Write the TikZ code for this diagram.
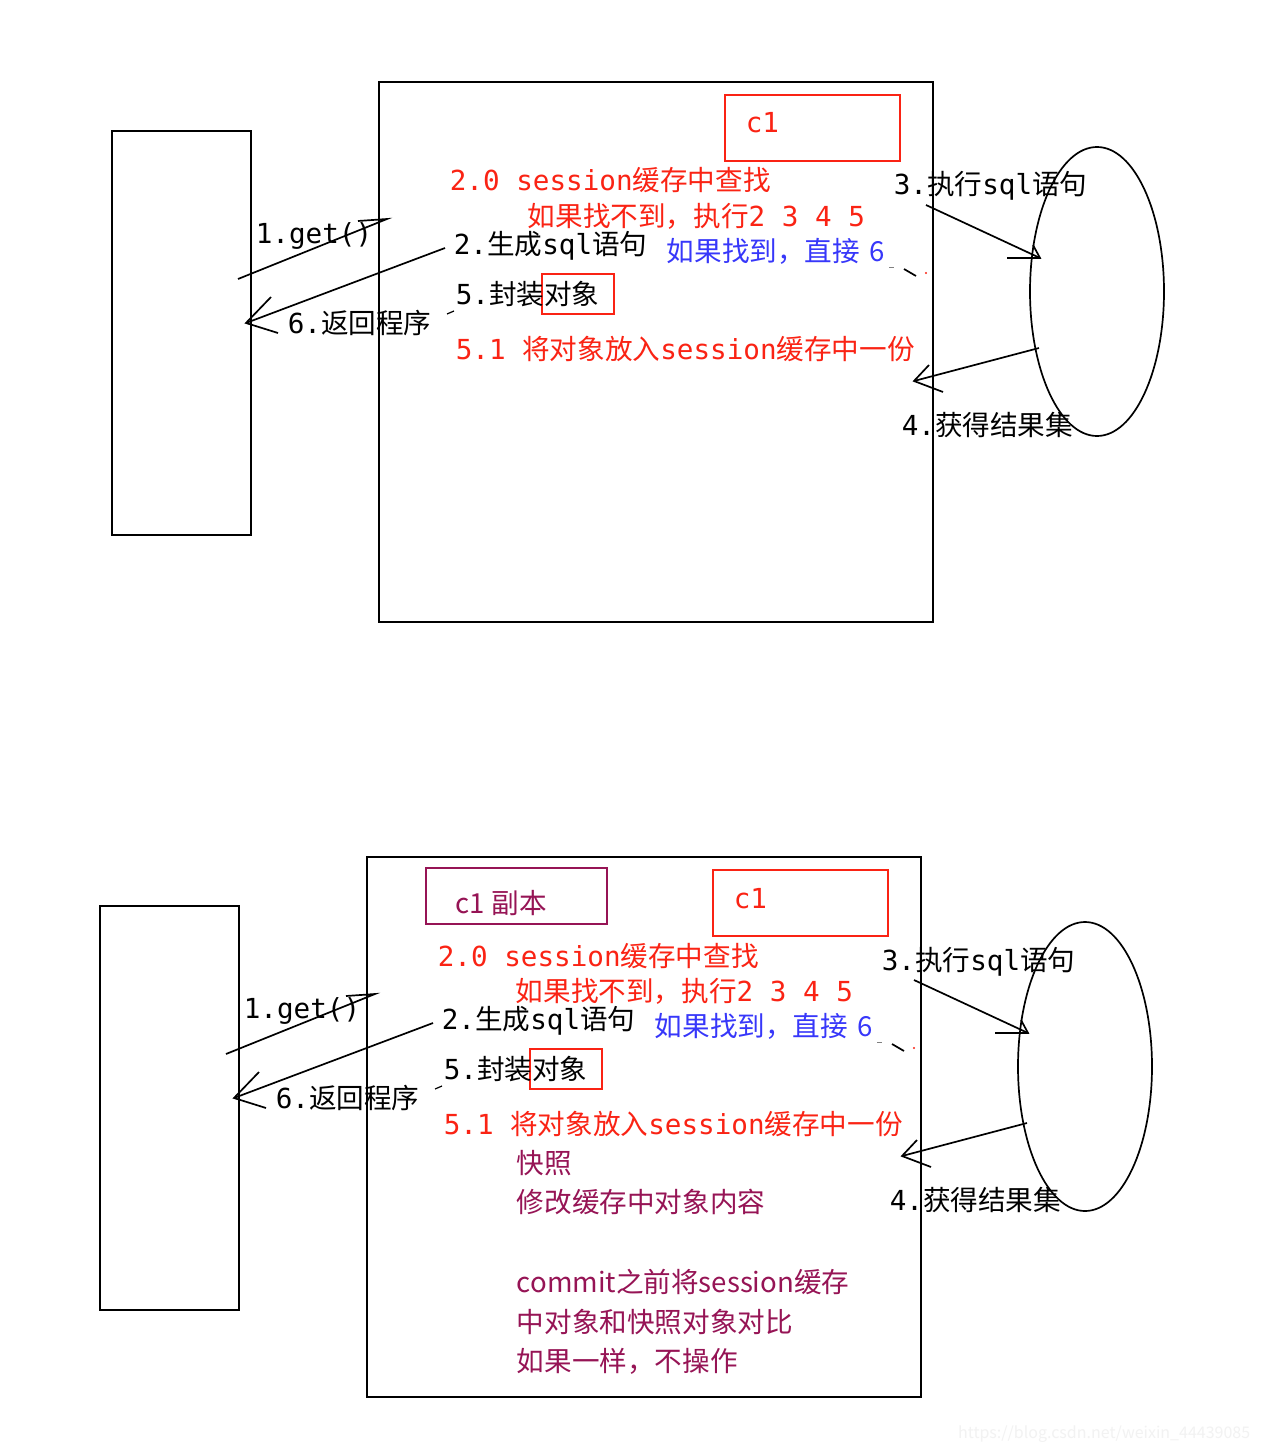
\documentclass[tikz,border=0pt]{standalone}
\usepackage{fontspec}
\setmainfont{Noto Sans CJK SC}
\newfontfamily\mono{DejaVu Sans Mono}
\usetikzlibrary{shapes.geometric}
\definecolor{memo}{RGB}{250,35,20}
\definecolor{hitblue}{RGB}{55,55,250}
\definecolor{snap}{RGB}{150,20,85}

\begin{document}
\begin{tikzpicture}[x=1pt,y=-1pt,line width=1.7pt,font=\fontsize{27.6}{34}\selectfont,
  box/.style={draw,rectangle,inner sep=0pt},
  redbox/.style={draw=memo,line width=1.4pt,rectangle,inner sep=0pt},
  lbl/.style={anchor=base west,inner sep=0pt}]
\useasboundingbox[fill=white] (0,0) rectangle (1261,1450);

% the same layout twice, the lower one shifted
\foreach \p/\dx/\dy in {a/0/0,b/-12/775}{
\begin{scope}[shift={(\dx,\dy)},name prefix=\p-]
\node[box,minimum width=139,minimum height=404] (client) at (181.5,333) {};
\node[box,minimum width=554,minimum height=540] (sess) at (656,352) {};
\node[draw,ellipse,inner sep=0pt,minimum width=134,minimum height=289] (db) at (1097,291.5) {};
\node[redbox,minimum width=175,minimum height=66] (c1box) at (812.5,128) {};
\node[redbox,minimum width=72,minimum height=40] (objbox) at (578,294) {};
% labels
\node[lbl,memo] (c1) at (745,133) {{\mono c1}};
\node[lbl,memo] (find) at (449,191) {{\mono 2.0 session}缓存中查找};
\node[lbl,memo] (miss) at (527,226) {如果找不到，执行{\mono 2 3 4 5}};
\node[lbl] (get) at (255,243) {{\mono 1.get()}};
\node[lbl] (gen) at (453,254) {{\mono 2.}生成{\mono sql}语句};
\node[lbl,hitblue] (hit) at (666,261) {如果找到，直接\,\,6};
\node[lbl] (wrap) at (455,304) {{\mono 5.}封装对象};
\node[lbl] (ret) at (287,333) {{\mono 6.}返回程序};
\node[lbl,memo] (put) at (455,359) {{\mono 5.1 }将对象放入{\mono session}缓存中一份};
\node[lbl] (exe) at (893,195) {{\mono 3.}执行{\mono sql}语句};
\node[lbl] (res) at (901,435) {{\mono 4.}获得结果集};
% arrow ends
\coordinate (gettail) at (238,279);
\coordinate (gethead) at (387,219);
\coordinate (getbarb) at (358,221);
\coordinate (rettail) at (445,248);
\coordinate (rethead) at (246,323);
\coordinate (retbarbl) at (271,297);
\coordinate (retbarbr) at (278,333);
\coordinate (exetail) at (926,205);
\coordinate (exehead) at (1040,258);
\coordinate (exebarbl) at (1007,258);
\coordinate (exebarbr) at (1033,245);
\coordinate (restail) at (1039,348);
\coordinate (reshead) at (914,381);
\coordinate (resbarbl) at (929,365);
\coordinate (resbarbr) at (943,392);
\draw (gettail) -- (gethead) -- (getbarb);
\draw (rettail) -- (rethead);
\draw (retbarbl) -- (rethead) -- (retbarbr);
\draw (exetail) -- (exehead);
\draw (exebarbl) -- (exehead) -- (exebarbr);
\draw (restail) -- (reshead);
\draw (resbarbl) -- (reshead) -- (resbarbr);
% stray marks
\draw[line width=1.2pt] (447,314) -- (454,311);
\draw[line width=0.7pt,gray] (889,267) -- (894,267);
\draw (904,269) -- (916,276);
\fill[memo] (926,273) circle (1.2);
\end{scope}
}

% extras of the lower layout
\node[draw=snap,line width=1.4pt,inner sep=0pt,minimum width=181,minimum height=56] (copybox) at (516.5,896) {};
\node[lbl,snap] (copy) at (455,913) {c1 副本};
\foreach \t/\y [count=\i] in {快照/1173,修改缓存中对象内容/1212,commit之前将session缓存/1292,中对象和快照对象对比/1332,如果一样，不操作/1371}
  \node[lbl,snap] (note\i) at (516,\y) {\t};
\node[anchor=base east,inner sep=0pt,text=gray!10,font=\fontsize{16}{18}\selectfont] (mark) at (1251,1438) {https://blog.csdn.net/weixin\_44439085};
\end{tikzpicture}
\end{document}
